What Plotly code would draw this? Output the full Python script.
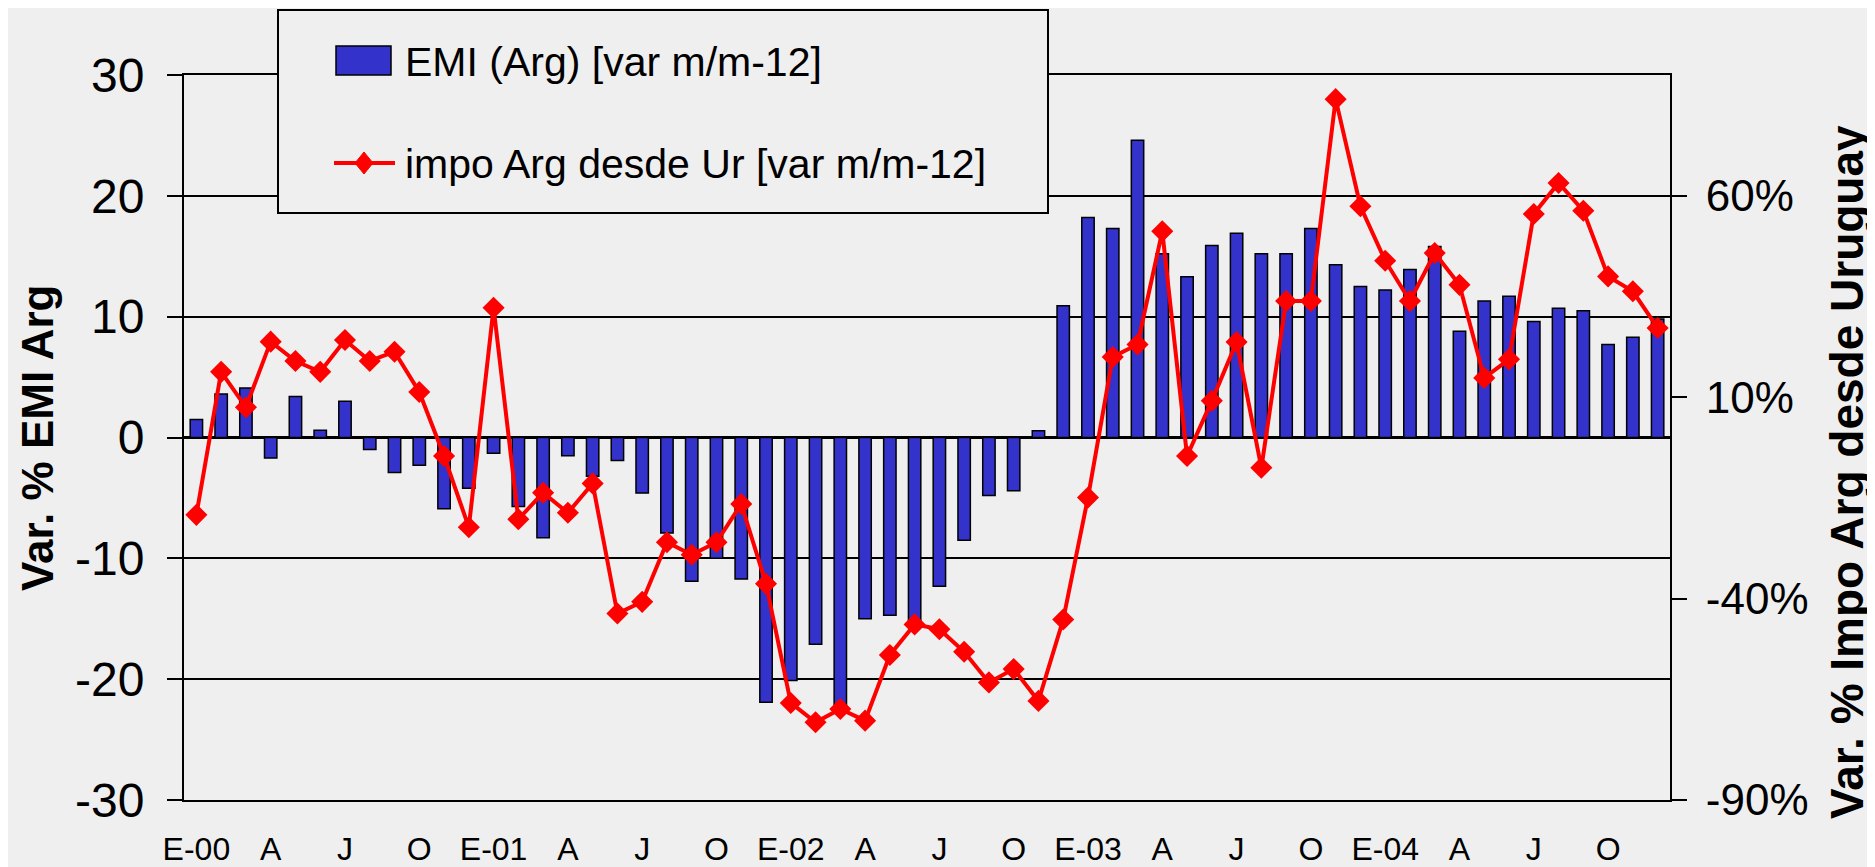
import plotly.graph_objects as go

# ---- data -----------------------------------------------------------------
mes_abrev = ["Ene", "Feb", "Mar", "Abr", "May", "Jun", "Jul", "Ago", "Sep", "Oct", "Nov", "Dic"]
anios = ["00", "01", "02", "03", "04"]
meses = [f"{m}-{a}" for a in anios for m in mes_abrev]

# EMI (Arg) var m/m-12  (left axis)
emi = [1.5, 3.6, 4.1, -1.7, 3.4, 0.6, 3.0, -1.0, -2.9, -2.3, -5.9, -4.2,
       -1.3, -5.7, -8.3, -1.5, -3.2, -1.9, -4.6, -7.9, -11.9, -10.0, -11.7, -21.9,
       -20.1, -17.1, -22.4, -15.0, -14.7, -15.6, -12.3, -8.5, -4.8, -4.4, 0.55, 10.9,
       18.2, 17.3, 24.6, 15.2, 13.3, 15.9, 16.9, 15.2, 15.2, 17.3, 14.3, 12.5,
       12.2, 13.9, 15.8, 8.8, 11.3, 11.7, 9.6, 10.7, 10.5, 7.7, 8.3, 9.8]

# impo Arg desde Ur var m/m-12 (right axis, %)
impo = [-19.2, 16.3, 7.5, 23.8, 19.0, 16.3, 24.2, 19.0, 21.3, 11.3, -4.6, -22.3,
        32.2, -20.3, -13.7, -18.7, -11.4, -43.7, -40.8, -26.0, -29.1, -26.0, -16.5, -36.3,
        -65.9, -70.7, -67.4, -70.3, -54.0, -46.4, -47.6, -53.2, -60.8, -57.5, -65.4, -45.2,
        -14.9, 20.0, 23.1, 51.2, -4.6, 9.1, 23.7, -7.5, 33.9, 33.9, 84.0, 57.4,
        43.9, 33.9, 45.8, 37.9, 14.8, 19.4, 55.5, 63.2, 56.3, 40.0, 36.3, 27.2]

tick_idx = list(range(0, 60, 3))
tick_text = ["E-00", "A", "J", "O", "E-01", "A", "J", "O", "E-02", "A", "J", "O",
             "E-03", "A", "J", "O", "E-04", "A", "J", "O"]

left_ticks = [-30, -20, -10, 0, 10, 20, 30]
left_text = ["-30", "-20", "-10", "0", "10", "20", "30"]
right_ticks = [-90, -40, 10, 60]
right_text = ["-90%", "-40%", "10%", "60%"]

name_bar = "EMI (Arg) [var m/m-12]"
name_line = "impo Arg desde Ur [var m/m-12]"
title_left = "Var. % EMI Arg"
title_right = "Var. % Impo Arg desde Uruguay"

# ---- layout geometry (screen pixels; page has an 8px body margin) ----------
OFF = 8
SW, SH = 1875, 867
W, H = SW - OFF, SH - OFF
SL, SR, ST, SB = 184, 1670, 75, 800          # plot area on screen
L, R, T, B = SL - OFF, SR - OFF, ST - OFF, SB - OFF
FONT = "Liberation Sans, Arial, sans-serif"


def px(x):   # screen x -> paper
    return (x - SL) / (SR - SL)


def py(y):   # screen y -> paper
    return (SB - y) / (SB - ST)


fig = go.Figure()
fig.add_trace(go.Bar(
    x=meses, y=emi, name=name_bar, width=0.5,
    marker=dict(color="#3333cc", line=dict(color="black", width=1.5)),
    showlegend=False,
))
fig.add_trace(go.Scatter(
    x=meses, y=impo, name=name_line, yaxis="y2", mode="lines+markers",
    line=dict(color="#ff0000", width=4),
    marker=dict(symbol="diamond", size=17, color="#ff0000"),
    showlegend=False,
))

fig.update_layout(
    width=W, height=H, autosize=False,
    margin=dict(l=L, r=W - R, t=T, b=H - B, pad=0, autoexpand=False),
    paper_bgcolor="#efefef", plot_bgcolor="rgba(0,0,0,0)",
    font=dict(family=FONT, color="black"),
    bargap=0.5,
    xaxis=dict(
        type="category", range=[-0.5, 59.5], automargin=False,
        tickmode="array", tickvals=[meses[i] for i in tick_idx], ticktext=tick_text,
        ticks="", tickfont=dict(size=32), ticklabelstandoff=20,
        showgrid=False, showline=True, linecolor="black", linewidth=2, mirror=True,
        zeroline=False,
    ),
    yaxis=dict(
        range=[-30, 30], automargin=False,
        tickmode="array", tickvals=left_ticks, ticktext=left_text,
        ticks="outside", ticklen=15, tickwidth=2, tickcolor="black",
        tickfont=dict(size=48), ticklabelstandoff=13,
        showgrid=True, gridcolor="black", gridwidth=2,
        zeroline=True, zerolinecolor="black", zerolinewidth=2.5,
        showline=True, linecolor="black", linewidth=2,
    ),
    yaxis2=dict(
        range=[-90, 90], overlaying="y", side="right", automargin=False,
        tickmode="array", tickvals=right_ticks, ticktext=right_text,
        ticks="outside", ticklen=15, tickwidth=2, tickcolor="black",
        tickfont=dict(size=44), ticklabelstandoff=10,
        showgrid=False, zeroline=False,
        showline=True, linecolor="black", linewidth=2,
    ),
)

# ---- manual legend box ------------------------------------------------------
shapes = [
    dict(type="rect", xref="paper", yref="paper",
         x0=px(278), x1=px(1048), y0=py(213), y1=py(10),
         line=dict(color="black", width=2), fillcolor="#efefef", layer="above"),
    dict(type="rect", xref="paper", yref="paper",
         x0=px(336), x1=px(391), y0=py(75), y1=py(46),
         line=dict(color="black", width=1.5), fillcolor="#3333cc", layer="above"),
    dict(type="line", xref="paper", yref="paper",
         x0=px(334), x1=px(395), y0=py(163), y1=py(163),
         line=dict(color="#ff0000", width=4), layer="above"),
]
cx, cy, hw, hh = 364, 163, 9, 11
diamond = (f"M {px(cx - hw)},{py(cy)} L {px(cx)},{py(cy - hh)} "
           f"L {px(cx + hw)},{py(cy)} L {px(cx)},{py(cy + hh)} Z")
shapes.append(dict(type="path", xref="paper", yref="paper", path=diamond,
                   fillcolor="#ff0000", line=dict(color="#ff0000", width=1), layer="above"))
fig.update_layout(shapes=shapes)

annotations = [
    dict(text=name_bar, xref="paper", yref="paper", x=px(403), y=py(62),
         xanchor="left", yanchor="middle", showarrow=False, font=dict(size=41)),
    dict(text=name_line, xref="paper", yref="paper", x=px(403), y=py(164),
         xanchor="left", yanchor="middle", showarrow=False, font=dict(size=41)),
    dict(text=f"<b>{title_left}</b>", xref="paper", yref="paper", x=px(37), y=py(438),
         xanchor="center", yanchor="middle", textangle=-90, showarrow=False,
         font=dict(size=44)),
    dict(text=f"<b>{title_right}</b>", xref="paper", yref="paper", x=px(1847), y=py(472),
         xanchor="center", yanchor="middle", textangle=-90, showarrow=False,
         font=dict(size=46)),
]
fig.update_layout(annotations=annotations)

fig.write_html("out.html")
